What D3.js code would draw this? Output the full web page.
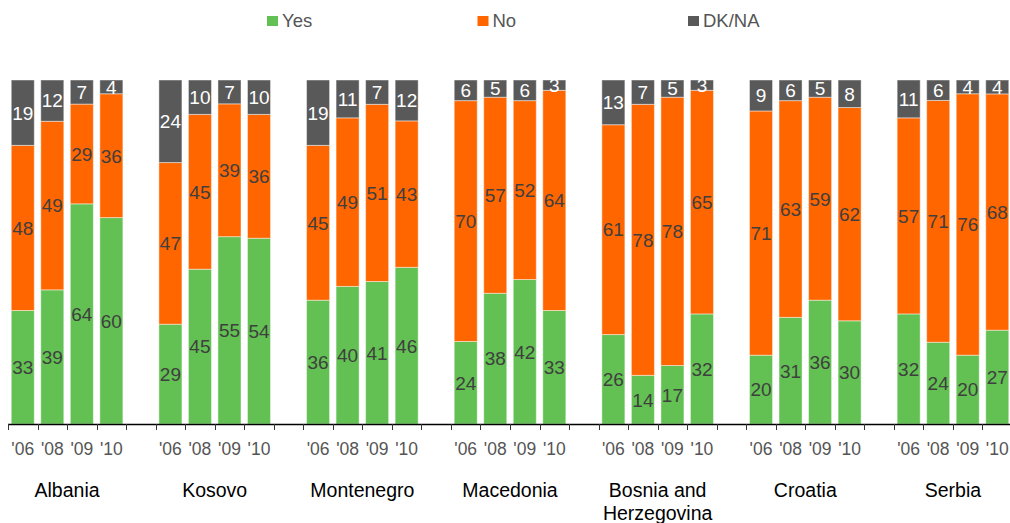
<!DOCTYPE html>
<html>
<head>
<meta charset="utf-8">
<script src="https://cdn.jsdelivr.net/npm/d3@7"></script>
<style>
  html, body { margin: 0; padding: 0; background: #fff; }
  svg { display: block; font-family: "Liberation Sans", Arial, Helvetica, sans-serif; }
</style>
</head>
<body>
<svg id="chart" width="1010" height="523"></svg>
<script>
// Survey answers by country and year (percent)
const countries = ["Albania", "Kosovo", "Montenegro", "Macedonia", "Bosnia and Herzegovina", "Croatia", "Serbia"];
const countryLines = [["Albania"], ["Kosovo"], ["Montenegro"], ["Macedonia"], ["Bosnia and", "Herzegovina"], ["Croatia"], ["Serbia"]];
const years = ["'06", "'08", "'09", "'10"];
const seriesNames = ["Yes", "No", "DK/NA"];

const yesValues = [
  [33, 39, 64, 60],
  [29, 45, 55, 54],
  [36, 40, 41, 46],
  [24, 38, 42, 33],
  [26, 14, 17, 32],
  [20, 31, 36, 30],
  [32, 24, 20, 27]
];
const noValues = [
  [48, 49, 29, 36],
  [47, 45, 39, 36],
  [45, 49, 51, 43],
  [70, 57, 52, 64],
  [61, 78, 78, 65],
  [71, 63, 59, 62],
  [57, 71, 76, 68]
];
const dkValues = [
  [19, 12, 7, 4],
  [24, 10, 7, 10],
  [19, 11, 7, 12],
  [6, 5, 6, 3],
  [13, 7, 5, 3],
  [9, 6, 5, 8],
  [11, 6, 4, 4]
];

const colors = { "Yes": "#62c152", "No": "#ff6600", "DK/NA": "#595959" };
const labelColors = { "Yes": "#3f3f3f", "No": "#3f3f3f", "DK/NA": "#ffffff" };

// Flatten into one row per bar
const rows = [];
countries.forEach((c, ci) => {
  years.forEach((yr, yi) => {
    rows.push({ country: c, year: yr, "Yes": yesValues[ci][yi], "No": noValues[ci][yi], "DK/NA": dkValues[ci][yi] });
  });
});

const svg = d3.select("#chart");
const slot = 29.53;
const plotLeft = 8;
const plotTop = 80, plotBottom = 424;

// Each country takes five slots: four bars and a gap
const x0 = d3.scaleBand().domain(countries).range([plotLeft, plotLeft + 35 * slot]);
const x1 = d3.scaleBand().domain(years).range([0, 4 * slot]).paddingInner(0.22).paddingOuter(0.11);
const y = d3.scaleLinear().domain([0, 1]).range([plotBottom, plotTop]);

const stack = d3.stack().keys(seriesNames).offset(d3.stackOffsetExpand);
const stacked = stack(rows);

const layers = svg.append("g").selectAll("g")
  .data(stacked)
  .join("g")
  .attr("fill", d => colors[d.key]);

layers.selectAll("rect")
  .data(d => d.map(p => ({ key: d.key, p })))
  .join("rect")
  .attr("x", d => x0(d.p.data.country) + x1(d.p.data.year))
  .attr("width", x1.bandwidth())
  .attr("y", d => y(d.p[1]))
  .attr("height", d => y(d.p[0]) - y(d.p[1]))
  .attr("stroke", "rgba(255,255,255,0.45)")
  .attr("stroke-width", 1);

// Value labels, centred in each segment
layers.selectAll("text")
  .data(d => d.map(p => ({ key: d.key, p })))
  .join("text")
  .attr("x", d => x0(d.p.data.country) + x1(d.p.data.year) + x1.bandwidth() / 2)
  .attr("y", d => (y(d.p[0]) + y(d.p[1])) / 2)
  .attr("dy", "0.36em")
  .attr("text-anchor", "middle")
  .attr("font-size", 19)
  .attr("fill", d => labelColors[d.key])
  .text(d => d.p.data[d.key]);

// Baseline and slot ticks
const axis = svg.append("g");
axis.append("line")
  .attr("x1", plotLeft).attr("x2", 1010)
  .attr("y1", plotBottom + 0.5).attr("y2", plotBottom + 0.5)
  .attr("stroke", "#000").attr("stroke-width", 1.5);

const tickPositions = [];
countries.forEach(c => { for (let k = 0; k < 5; k++) tickPositions.push(x0(c) + k * slot); });
axis.selectAll("line.tick")
  .data(tickPositions)
  .join("line")
  .attr("class", "tick")
  .attr("x1", d => Math.round(d) + 0.5).attr("x2", d => Math.round(d) + 0.5)
  .attr("y1", plotBottom).attr("y2", plotBottom + 6)
  .attr("stroke", "#333").attr("stroke-width", 1);

// Year labels
axis.selectAll("text.year")
  .data(rows)
  .join("text")
  .attr("class", "year")
  .attr("x", d => x0(d.country) + x1(d.year) + x1.bandwidth() / 2)
  .attr("y", 455)
  .attr("text-anchor", "middle")
  .attr("font-size", 17.5)
  .attr("fill", "#555")
  .text(d => d.year);

// Country names
const cg = svg.append("g").selectAll("text")
  .data(countries)
  .join("text")
  .attr("x", c => x0(c) + 2 * slot)
  .attr("y", 497)
  .attr("text-anchor", "middle")
  .attr("font-size", 19.5)
  .attr("fill", "#000");
cg.selectAll("tspan")
  .data((c, i) => countryLines[i].map(t => ({ t, c })))
  .join("tspan")
  .attr("x", d => x0(d.c) + 2 * slot)
  .attr("dy", (d, i) => i === 0 ? 0 : 23)
  .text(d => d.t);

// Legend
const legendX = d3.scalePoint().domain(seriesNames).range([267, 688]);
const lg = svg.append("g").selectAll("g")
  .data(seriesNames)
  .join("g")
  .attr("transform", d => `translate(${legendX(d)},0)`);
lg.append("rect")
  .attr("x", 0).attr("y", 16)
  .attr("width", 11).attr("height", 10)
  .attr("fill", d => colors[d]);
lg.append("text")
  .attr("x", 15).attr("y", 27)
  .attr("font-size", 18.5)
  .attr("fill", "#555")
  .text(d => d);
</script>
</body>
</html>
